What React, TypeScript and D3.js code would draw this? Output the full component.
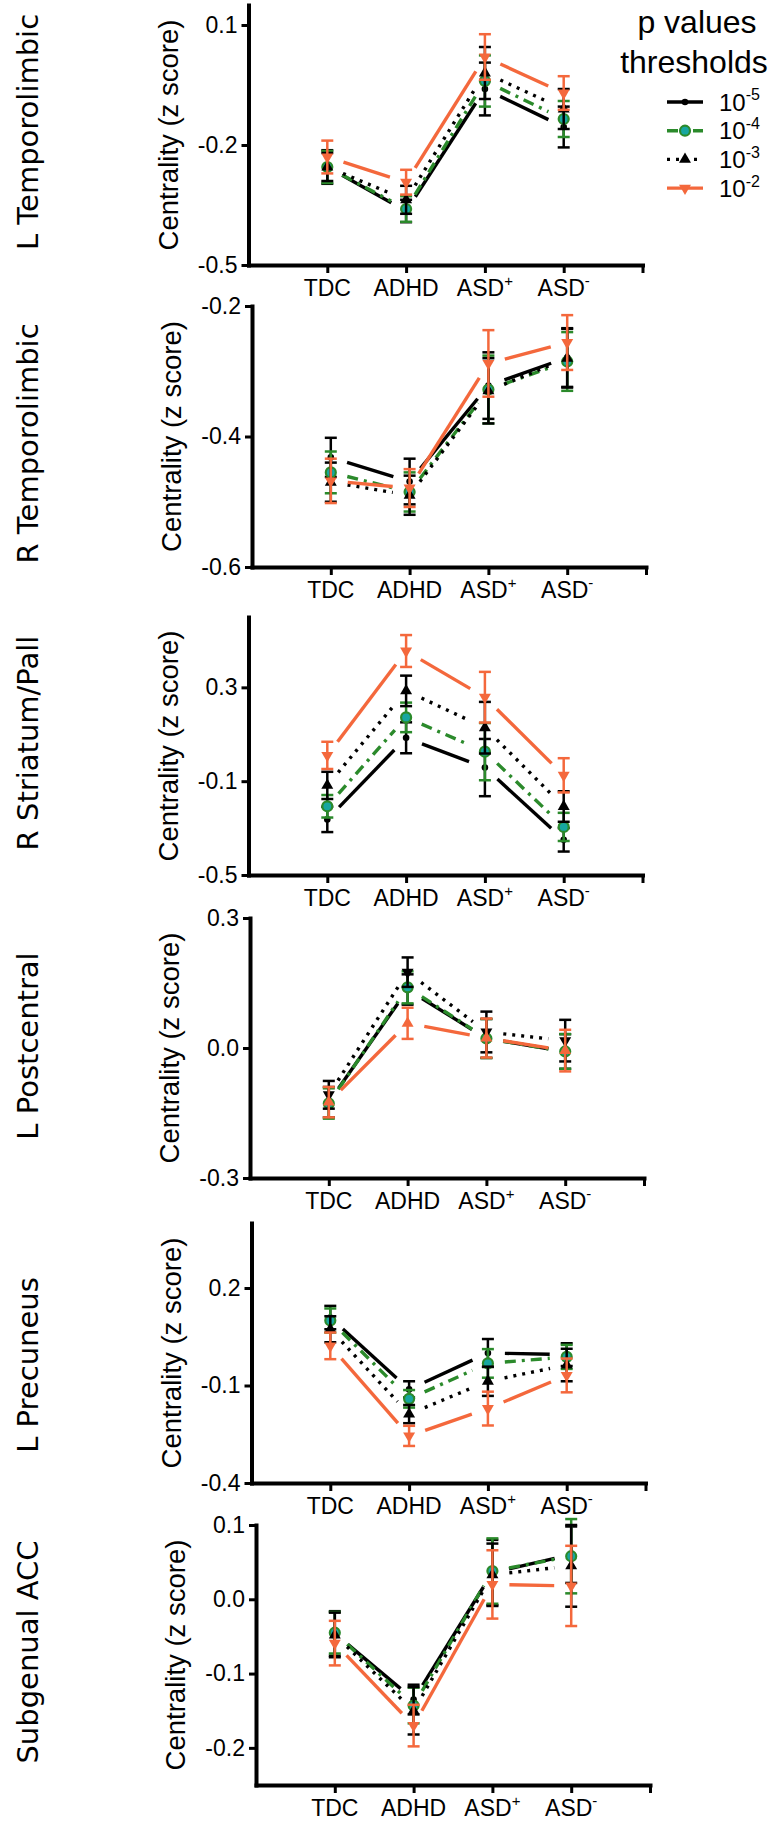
import React, { useEffect, useRef } from "react";
import * as d3 from "d3";

// groups on the x axis
const categories = ["TDC", "ADHD", "ASD+", "ASD-"];
// p value thresholds (10^x), one series each
const thresholdExps = ["-5", "-4", "-3", "-2"];
const regions = [
  "L Temporolimbic",
  "R Temporolimbic",
  "R Striatum/Pall",
  "L Postcentral",
  "L Precuneus",
  "Subgenual ACC",
];

// rows: 10^-5, 10^-4, 10^-3, 10^-2 ; cols: TDC, ADHD, ASD+, ASD-
const lTemporolimbicMean = [
  [-0.255, -0.365, -0.06, -0.155],
  [-0.255, -0.36, -0.04, -0.135],
  [-0.255, -0.337, -0.02, -0.11],
  [-0.23, -0.293, 0.02, -0.07],
];
const lTemporolimbicSem = [
  [0.042, 0.028, 0.066, 0.051],
  [0.04, 0.032, 0.064, 0.045],
  [0.035, 0.035, 0.065, 0.05],
  [0.041, 0.031, 0.057, 0.042],
];

const rTemporolimbicMean = [
  [-0.432, -0.469, -0.322, -0.279],
  [-0.455, -0.485, -0.328, -0.285],
  [-0.47, -0.49, -0.33, -0.28],
  [-0.468, -0.479, -0.288, -0.256],
];
const rTemporolimbicSem = [
  [0.03, 0.035, 0.051, 0.045],
  [0.032, 0.03, 0.052, 0.045],
  [0.03, 0.03, 0.05, 0.045],
  [0.034, 0.029, 0.051, 0.042],
];

const rStriatumMean = [
  [-0.263, 0.085, -0.042, -0.35],
  [-0.207, 0.172, 0.026, -0.295],
  [-0.118, 0.285, 0.128, -0.208],
  [0.01, 0.455, 0.258, -0.075],
];
const rStriatumSem = [
  [0.054, 0.066, 0.122, 0.05],
  [0.048, 0.063, 0.122, 0.06],
  [0.058, 0.065, 0.11, 0.065],
  [0.058, 0.068, 0.108, 0.073],
];

const lPostcentralMean = [
  [-0.125, 0.135, 0.022, -0.008],
  [-0.128, 0.14, 0.022, -0.008],
  [-0.108, 0.175, 0.037, 0.017],
  [-0.125, 0.057, 0.023, -0.006],
];
const lPostcentralSem = [
  [0.035, 0.035, 0.045, 0.04],
  [0.035, 0.037, 0.045, 0.04],
  [0.032, 0.034, 0.047, 0.048],
  [0.035, 0.036, 0.045, 0.048],
];

const lPrecuneusMean = [
  [0.109, -0.112, 0.0, -0.005],
  [0.1, -0.141, -0.032, -0.012],
  [0.073, -0.188, -0.087, -0.037],
  [0.022, -0.255, -0.171, -0.069],
];
const lPrecuneusSem = [
  [0.036, 0.025, 0.043, 0.035],
  [0.037, 0.027, 0.044, 0.037],
  [0.04, 0.028, 0.045, 0.05],
  [0.041, 0.031, 0.052, 0.052],
];

const subgenualAccMean = [
  [-0.046, -0.135, 0.036, 0.06],
  [-0.045, -0.143, 0.038, 0.058],
  [-0.048, -0.15, 0.033, 0.045],
  [-0.059, -0.17, 0.02, 0.018],
];
const subgenualAccSem = [
  [0.03, 0.02, 0.044, 0.038],
  [0.028, 0.024, 0.044, 0.05],
  [0.03, 0.032, 0.042, 0.055],
  [0.03, 0.028, 0.046, 0.054],
];

const yDomains = [
  [-0.5, 0.15],
  [-0.6, -0.2],
  [-0.5, 0.6],
  [-0.3, 0.3],
  [-0.4, 0.4],
  [-0.25, 0.1],
];
const yTicks = [
  [-0.5, -0.2, 0.1],
  [-0.6, -0.4, -0.2],
  [-0.5, -0.1, 0.3],
  [-0.3, 0.0, 0.3],
  [-0.4, -0.1, 0.2],
  [-0.2, -0.1, 0.0, 0.1],
];

const panelMeans = [
  lTemporolimbicMean,
  rTemporolimbicMean,
  rStriatumMean,
  lPostcentralMean,
  lPrecuneusMean,
  subgenualAccMean,
];
const panelSems = [
  lTemporolimbicSem,
  rTemporolimbicSem,
  rStriatumSem,
  lPostcentralSem,
  lPrecuneusSem,
  subgenualAccSem,
];

// layout of each panel (pixels)
const panelLeft = [248.5, 252, 248.5, 250, 251.5, 256];
const panelTop = [5, 306, 617, 918, 1223, 1525];
const panelBottom = [265, 567, 875, 1178, 1483, 1785];
const titleShift = [-3, 7, -3, -2, 12, -3];
const flipTriangles = [false, false, false, true, false, false];

const ORANGE = "#f4683c";
const GREEN = "#2b8a2b";
const TEAL = "#17a6a0";

const seriesStyle = [
  { color: "#000", dash: null, marker: "dot" },
  { color: GREEN, dash: "11,6,3,6", marker: "circle" },
  { color: "#000", dash: "3,6", marker: "up" },
  { color: ORANGE, dash: null, marker: "down" },
];

const FONT = "'Liberation Sans', Arial, Helvetica, sans-serif";
const TITLE_FONT = "'DejaVu Sans', Verdana, sans-serif";
const fmt = (d) => d3.format(".1f")(d).replace("\u2212", "-");

function drawMarker(g, kind, cx, cy, color, flip) {
  let k = kind;
  if (flip && k === "up") k = "down";
  else if (flip && k === "down") k = "up";
  if (k === "dot") {
    g.append("circle").attr("cx", cx).attr("cy", cy).attr("r", 3.3).attr("fill", color);
  } else if (k === "circle") {
    g.append("circle")
      .attr("cx", cx)
      .attr("cy", cy)
      .attr("r", 5)
      .attr("fill", TEAL)
      .attr("stroke", GREEN)
      .attr("stroke-width", 2.2);
  } else {
    g.append("path")
      .attr("d", d3.symbol(d3.symbolTriangle, 62)())
      .attr("transform", `translate(${cx},${cy}) rotate(${k === "down" ? 180 : 0})`)
      .attr("fill", color);
  }
}

function superText(t, base, sup, size, supSize) {
  t.append("tspan").text(base).attr("font-size", size);
  if (sup) t.append("tspan").text(sup).attr("font-size", supSize).attr("dy", -size * 0.42);
}

function App() {
  const ref = useRef(null);

  useEffect(() => {
    const svg = d3.select(ref.current);
    svg.selectAll("*").remove();
    const GAP = 17;

    regions.forEach((name, p) => {
      const left = panelLeft[p];
      const top = panelTop[p];
      const bottom = panelBottom[p];
      const x = d3
        .scaleLinear()
        .domain([0, categories.length + 1])
        .range([left, left + 394]);
      const y = d3.scaleLinear().domain(yDomains[p]).range([bottom, top]);
      const g = svg.append("g");

      // Y axis
      const yAxis = g
        .append("g")
        .attr("transform", `translate(${left},0)`)
        .call(
          d3
            .axisLeft(y)
            .tickValues(yTicks[p])
            .tickSize(7)
            .tickSizeOuter(0)
            .tickPadding(4)
            .tickFormat(fmt)
        );
      yAxis.select(".domain").attr("stroke-width", 4).attr("stroke-linecap", "square");
      yAxis.selectAll(".tick line").attr("stroke-width", 3);
      yAxis
        .selectAll(".tick text")
        .attr("font-family", FONT)
        .attr("font-size", 23)
        .attr("fill", "#000");

      // X axis
      const xAxis = g
        .append("g")
        .attr("transform", `translate(0,${bottom})`)
        .call(
          d3
            .axisBottom(x)
            .tickValues([1, 2, 3, 4, 5])
            .tickSize(8)
            .tickSizeOuter(0)
            .tickFormat(() => "")
        );
      xAxis.select(".domain").attr("stroke-width", 4).attr("stroke-linecap", "square");
      xAxis.selectAll(".tick line").attr("stroke-width", 3);

      categories.forEach((c, i) => {
        const t = g
          .append("text")
          .attr("x", x(i + 1))
          .attr("y", bottom + 31)
          .attr("text-anchor", "middle")
          .attr("font-family", FONT);
        const last = c.slice(-1);
        if (last === "+" || last === "-") superText(t, c.slice(0, -1), last, 23, 15);
        else superText(t, c, null, 23, 15);
      });

      // Y-axis label
      g.append("text")
        .attr("transform", `translate(${left - 71},${(top + bottom) / 2}) rotate(-90)`)
        .attr("text-anchor", "middle")
        .attr("font-family", FONT)
        .attr("font-size", 27.5)
        .text("Centrality (z score)");

      // region name
      g.append("text")
        .attr("transform", `translate(37.5,${(top + bottom) / 2 + titleShift[p]}) rotate(-90)`)
        .attr("text-anchor", "middle")
        .attr("font-family", TITLE_FONT)
        .attr("font-size", 29)
        .text(name);

      // series
      seriesStyle.forEach((s, k) => {
        const means = panelMeans[p][k];
        const sems = panelSems[p][k];
        const pts = means.map((m, i) => [x(i + 1), y(m)]);

        // error bars
        means.forEach((m, i) => {
          const cx = x(i + 1);
          const y1 = y(m + sems[i]);
          const y2 = y(m - sems[i]);
          g.append("line").attr("x1", cx).attr("x2", cx).attr("y1", y1).attr("y2", y2)
            .attr("stroke", s.color).attr("stroke-width", 2.5);
          [y1, y2].forEach((yy) =>
            g.append("line").attr("x1", cx - 6).attr("x2", cx + 6).attr("y1", yy).attr("y2", yy)
              .attr("stroke", s.color).attr("stroke-width", 2.5)
          );
        });

        // connecting lines, with a gap at each point
        const line = d3.line();
        for (let i = 0; i < pts.length - 1; i++) {
          const [x1, y1] = pts[i];
          const [x2, y2] = pts[i + 1];
          const len = Math.hypot(x2 - x1, y2 - y1);
          const ux = (x2 - x1) / len;
          const uy = (y2 - y1) / len;
          g.append("path")
            .attr("d", line([
              [x1 + ux * GAP, y1 + uy * GAP],
              [x2 - ux * GAP, y2 - uy * GAP],
            ]))
            .attr("fill", "none")
            .attr("stroke", s.color)
            .attr("stroke-width", 3.4)
            .attr("stroke-dasharray", s.dash);
        }

        pts.forEach(([cx, cy]) => drawMarker(g, s.marker, cx, cy, s.color, flipTriangles[p]));
      });
    });

    // Legend
    const lg = svg.append("g").attr("font-family", FONT);
    lg.append("text").attr("x", 697).attr("y", 33).attr("text-anchor", "middle")
      .attr("font-size", 32).text("p values");
    lg.append("text").attr("x", 694).attr("y", 73).attr("text-anchor", "middle")
      .attr("font-size", 32).text("thresholds");
    seriesStyle.forEach((s, k) => {
      const ly = 102 + k * 28.7;
      lg.append("line").attr("x1", 667).attr("x2", 703).attr("y1", ly).attr("y2", ly)
        .attr("stroke", s.color).attr("stroke-width", 3.4).attr("stroke-dasharray", s.dash);
      drawMarker(lg, s.marker, 685, ly, s.color, false);
      const t = lg.append("text").attr("x", 719).attr("y", ly + 8.5);
      superText(t, "10", thresholdExps[k], 24, 16);
    });
  }, []);

  return (
    <svg
      ref={ref}
      width={779}
      height={1823}
      style={{ position: "absolute", left: 0, top: 0, background: "#fff" }}
    />
  );
}

export default App;
